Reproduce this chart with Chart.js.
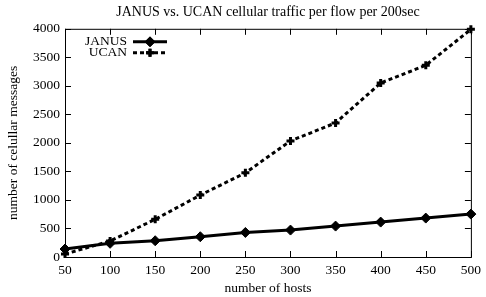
<!DOCTYPE html>
<html>
<head>
<meta charset="utf-8">
<script src="https://cdn.jsdelivr.net/npm/chart.js@4"></script>
<style>
  html, body { margin: 0; padding: 0; background: #fff; }
  #wrap { width: 486px; height: 297px; }
</style>
</head>
<body>
<div id="wrap"><canvas id="trafficChart"></canvas></div>
<script>
// data
const hosts = [50, 100, 150, 200, 250, 300, 350, 400, 450, 500];
const janus = [140, 240, 285, 355, 430, 472, 542, 612, 682, 752];
const ucan = [52, 280, 660, 1085, 1475, 2035, 2350, 3050, 3360, 3990];
const xTicks = [50, 100, 150, 200, 250, 300, 350, 400, 450, 500];
const yTicks = [0, 500, 1000, 1500, 2000, 2500, 3000, 3500, 4000];

const serif = "'Liberation Serif', 'DejaVu Serif', serif";

// gnuplot style frame: box + inward ticks on all four sides, plus key top-left
const framePlugin = {
  id: 'frame',
  afterDatasetsDraw(chart) {
    const { ctx, chartArea: a, scales } = chart;
    ctx.save();
    ctx.strokeStyle = '#000';
    ctx.lineWidth = 1;
    ctx.strokeRect(a.left + 0.5, a.top + 0.5, a.right - a.left, a.bottom - a.top);
    ctx.beginPath();
    xTicks.forEach(v => {
      const x = Math.round(scales.x.getPixelForValue(v)) + 0.5;
      ctx.moveTo(x, a.bottom); ctx.lineTo(x, a.bottom - 6);
      ctx.moveTo(x, a.top); ctx.lineTo(x, a.top + 6);
    });
    yTicks.forEach(v => {
      const y = Math.round(scales.y.getPixelForValue(v)) + 0.5;
      ctx.moveTo(a.left, y); ctx.lineTo(a.left + 6, y);
      ctx.moveTo(a.right, y); ctx.lineTo(a.right - 6, y);
    });
    ctx.stroke();

    // key
    ctx.font = '13.5px ' + serif;
    ctx.textAlign = 'right';
    ctx.textBaseline = 'middle';
    ctx.fillStyle = '#000';
    chart.data.datasets.forEach((ds, i) => {
      const y = a.top + 13 + i * 11;
      ctx.fillText(ds.label, a.left + 62, y);
      ctx.beginPath();
      ctx.lineWidth = 3;
      ctx.setLineDash(ds.borderDash || []);
      ctx.moveTo(a.left + 68, y);
      ctx.lineTo(a.left + 102, y);
      ctx.stroke();
      ctx.setLineDash([]);
      ctx.lineWidth = ds.pointBorderWidth;
      Chart.helpers.drawPoint(ctx, {
        pointStyle: ds.pointStyle, radius: ds.pointRadius, borderWidth: ds.pointBorderWidth
      }, a.left + 85, y);
      if (ds.pointStyle === 'rectRot') ctx.fill(); else ctx.stroke();
    });
    ctx.restore();
  }
};

new Chart(document.getElementById('trafficChart'), {
  type: 'line',
  data: {
    datasets: [{
      label: 'JANUS',
      data: hosts.map((h, i) => ({ x: h, y: janus[i] })),
      borderColor: '#000',
      backgroundColor: '#000',
      borderWidth: 3,
      pointStyle: 'rectRot',
      pointRadius: 5,
      pointBorderWidth: 1,
      pointBackgroundColor: '#000',
      tension: 0,
      clip: false
    }, {
      label: 'UCAN',
      data: hosts.map((h, i) => ({ x: h, y: ucan[i] })),
      borderColor: '#000',
      backgroundColor: '#000',
      borderWidth: 3,
      borderDash: [4, 3],
      pointStyle: 'cross',
      pointRadius: 4,
      pointBorderWidth: 3,
      tension: 0,
      clip: false
    }]
  },
  options: {
    responsive: true,
    maintainAspectRatio: false,
    animation: false,
    layout: { padding: { top: 0, right: 13, left: 0, bottom: 0 } },
    plugins: {
      legend: { display: false },
      tooltip: { enabled: false },
      title: {
        display: true,
        fullSize: false,
        text: 'JANUS vs. UCAN cellular traffic per flow per 200sec',
        color: '#000',
        font: { family: serif, size: 14, weight: 'normal' },
        padding: { top: 4, bottom: 8 }
      }
    },
    scales: {
      x: {
        type: 'linear',
        min: 50,
        max: 500,
        afterBuildTicks: s => { s.ticks = xTicks.map(v => ({ value: v })); },
        afterFit: s => { s.height = 40; },
        grid: { display: false, drawTicks: false },
        border: { display: false },
        ticks: { color: '#000', padding: 5, maxRotation: 0, font: { family: serif, size: 13.5 } },
        title: {
          display: true,
          text: 'number of hosts',
          color: '#000',
          padding: { top: 0, bottom: 0 },
          font: { family: serif, size: 13.5 }
        }
      },
      y: {
        min: 0,
        max: 4000,
        afterBuildTicks: s => { s.ticks = yTicks.map(v => ({ value: v })); },
        afterFit: s => { s.width = 65; },
        grid: { display: false, drawTicks: false },
        border: { display: false },
        ticks: {
          color: '#000',
          padding: 5,
          font: { family: serif, size: 13.5 },
          callback: v => String(v)
        },
        title: {
          display: true,
          text: 'number of celullar messages',
          color: '#000',
          padding: { top: 5, bottom: 0 },
          font: { family: serif, size: 13.5 }
        }
      }
    }
  },
  plugins: [framePlugin]
});
</script>
</body>
</html>
